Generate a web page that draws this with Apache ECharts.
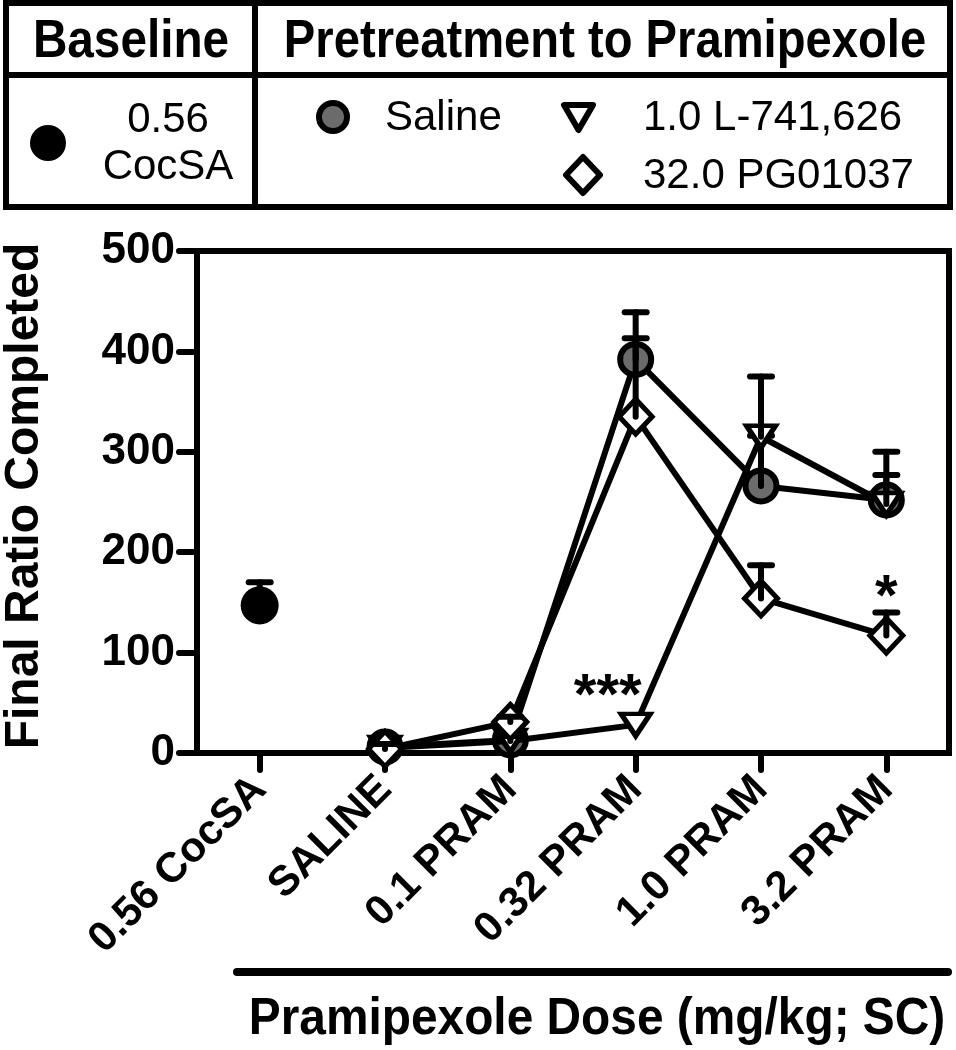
<!DOCTYPE html>
<html>
<head>
<meta charset="utf-8">
<script src="https://cdn.jsdelivr.net/npm/echarts@6/dist/echarts.min.js"></script>
<style>
html,body{margin:0;padding:0;background:#fff;}
#chart{width:956px;height:1050px;}
</style>
</head>
<body>
<div id="chart"></div>
<script>
// ---- data ----
const categories = ['0.56 CocSA', 'SALINE', '0.1 PRAM', '0.32 PRAM', '1.0 PRAM', '3.2 PRAM'];
const baselineMean = [147, null, null, null, null, null];
const baselineSem  = [23, null, null, null, null, null];
const salineMean   = [null, 6, 13, 392, 266, 252];
const salineSem    = [null, 8, 6, 47, 50, 25];
const l741Mean     = [null, 5, 12, 28, 315, 248];
const l741Sem      = [null, 6, 5, 0, 60, 52];
const pgMean       = [null, 4, 31, 335, 154, 117];
const pgSem        = [null, 5, 5, 78, 33, 23];
const annotCats    = ['0.32 PRAM', '3.2 PRAM'];
const annotText    = ['***', '*'];
const annotValue   = [55, 153];
const yMin = 0, yMax = 500, yStep = 100;

const FONT = '"Liberation Sans", Arial, sans-serif';
const LW = 6;

function toLine(arr) { return arr.map(v => v == null ? '-' : v); }
function errData(mean, sem) {
  const out = [];
  mean.forEach((m, i) => { if (m != null && sem[i] != null && sem[i] > 0) out.push([i, m, sem[i]]); });
  return out;
}
function errSeries(mean, sem, z) {
  return {
    type: 'custom',
    z: z,
    silent: true,
    data: errData(mean, sem),
    renderItem: function (params, api) {
      const x = api.value(0), m = api.value(1), e = api.value(2);
      const p0 = api.coord([x, m]);
      const p1 = api.coord([x, m + e]);
      const style = { stroke: '#000', lineWidth: LW, lineCap: 'round' };
      return {
        type: 'group',
        children: [
          { type: 'line', shape: { x1: p0[0], y1: p0[1], x2: p1[0], y2: p1[1] }, style: style },
          { type: 'line', shape: { x1: p1[0] - 11, y1: p1[1], x2: p1[0] + 11, y2: p1[1] }, style: style }
        ]
      };
    }
  };
}

const chart = echarts.init(document.getElementById('chart'), null, { renderer: 'canvas' });

const legendGraphics = [
  { type: 'rect', shape: { x: 6, y: 3, width: 944, height: 204 }, style: { fill: '#fff', stroke: '#000', lineWidth: 6 }, z: 1 },
  { type: 'line', shape: { x1: 6, y1: 75, x2: 950, y2: 75 }, style: { stroke: '#000', lineWidth: 6 }, z: 2 },
  { type: 'line', shape: { x1: 255, y1: 3, x2: 255, y2: 207 }, style: { stroke: '#000', lineWidth: 6 }, z: 2 },
  { type: 'text', x: 131, y: 42, scaleX: 0.9, style: { text: 'Baseline', font: 'bold 53px ' + FONT, fill: '#000', textAlign: 'center', textVerticalAlign: 'middle' }, z: 3 },
  { type: 'text', x: 605, y: 42, scaleX: 0.89, style: { text: 'Pretreatment to Pramipexole', font: 'bold 53px ' + FONT, fill: '#000', textAlign: 'center', textVerticalAlign: 'middle' }, z: 3 },
  { type: 'circle', shape: { cx: 48, cy: 143, r: 18 }, style: { fill: '#000' }, z: 3 },
  { type: 'text', x: 168, y: 120, style: { text: '0.56', font: '42px ' + FONT, fill: '#000', textAlign: 'center', textVerticalAlign: 'middle' }, z: 3 },
  { type: 'text', x: 168, y: 167, style: { text: 'CocSA', font: '42px ' + FONT, fill: '#000', textAlign: 'center', textVerticalAlign: 'middle' }, z: 3 },
  { type: 'circle', shape: { cx: 333, cy: 117, r: 14 }, style: { fill: '#6b6b6b', stroke: '#000', lineWidth: 6 }, z: 3 },
  { type: 'text', x: 385, y: 118, style: { text: 'Saline', font: '42px ' + FONT, fill: '#000', textAlign: 'left', textVerticalAlign: 'middle' }, z: 3 },
  { type: 'polygon', shape: { points: [[564, 105], [593, 105], [578.5, 130]] }, style: { fill: '#fff', stroke: '#000', lineWidth: 6, lineJoin: 'round' }, z: 3 },
  { type: 'text', x: 643, y: 118, style: { text: '1.0 L-741,626', font: '42px ' + FONT, fill: '#000', textAlign: 'left', textVerticalAlign: 'middle' }, z: 3 },
  { type: 'polygon', shape: { points: [[583, 157], [600, 175], [583, 193], [566, 175]] }, style: { fill: '#fff', stroke: '#000', lineWidth: 6, lineJoin: 'round' }, z: 3 },
  { type: 'text', x: 643, y: 176, style: { text: '32.0 PG01037', font: '42px ' + FONT, fill: '#000', textAlign: 'left', textVerticalAlign: 'middle' }, z: 3 }
];

const otherGraphics = [
  { type: 'text', x: 25, y: 496, rotation: Math.PI / 2, style: { text: 'Final Ratio Completed', font: 'bold 48px ' + FONT, fill: '#000', textAlign: 'center', textVerticalAlign: 'middle' }, z: 3 },
  { type: 'line', shape: { x1: 237, y1: 972, x2: 948, y2: 972 }, style: { stroke: '#000', lineWidth: 8, lineCap: 'round' }, z: 3 },
  { type: 'text', x: 597, y: 1020, scaleX: 0.92, style: { text: 'Pramipexole Dose (mg/kg; SC)', font: 'bold 52px ' + FONT, fill: '#000', textAlign: 'center', textVerticalAlign: 'middle' }, z: 3 }
];

const option = {
  backgroundColor: '#fff',
  animation: false,
  grid: { left: 197, top: 251, width: 752, height: 502, show: true, borderColor: '#000', borderWidth: LW, backgroundColor: 'transparent' },
  xAxis: {
    type: 'category',
    data: categories,
    boundaryGap: true,
    axisLine: { show: true, lineStyle: { color: '#000', width: LW } },
    axisTick: { show: true, alignWithLabel: true, length: 17, lineStyle: { color: '#000', width: LW, cap: 'round' } },
    axisLabel: { rotate: 45, margin: 30, color: '#000', fontFamily: FONT, fontWeight: 'bold', fontSize: 42, interval: 0 },
    splitLine: { show: false }
  },
  yAxis: {
    type: 'value',
    min: yMin, max: yMax, interval: yStep,
    axisLine: { show: true, lineStyle: { color: '#000', width: LW } },
    axisTick: { show: true, length: 18, lineStyle: { color: '#000', width: LW, cap: 'round' } },
    axisLabel: { margin: 22, color: '#000', fontFamily: FONT, fontWeight: 'bold', fontSize: 44 },
    splitLine: { show: false }
  },
  graphic: legendGraphics.concat(otherGraphics),
  series: [
    {
      name: '0.56 CocSA', type: 'scatter', z: 5,
      data: toLine(baselineMean), symbol: 'circle', symbolSize: 38,
      itemStyle: { color: '#000', opacity: 1 }
    },
    errSeries(baselineMean, baselineSem, 6),
    {
      name: 'Saline', type: 'line', z: 7,
      data: toLine(salineMean), connectNulls: false,
      symbol: 'circle', symbolSize: 31, showAllSymbol: true,
      lineStyle: { color: '#000', width: LW },
      itemStyle: { color: '#6b6b6b', borderColor: '#000', borderWidth: 6 }
    },
    errSeries(salineMean, salineSem, 8),
    {
      name: '1.0 L-741,626', type: 'line', z: 9,
      data: toLine(l741Mean),
      symbol: 'triangle', symbolRotate: 180, symbolSize: [29, 22], showAllSymbol: true,
      lineStyle: { color: '#000', width: LW },
      itemStyle: { color: '#fff', borderColor: '#000', borderWidth: 5 }
    },
    errSeries(l741Mean, l741Sem, 10),
    {
      name: '32.0 PG01037', type: 'line', z: 11,
      data: toLine(pgMean),
      symbol: 'diamond', symbolSize: [33, 35], showAllSymbol: true,
      lineStyle: { color: '#000', width: LW },
      itemStyle: { color: '#fff', borderColor: '#000', borderWidth: 5 }
    },
    errSeries(pgMean, pgSem, 12),
    {
      name: 'annotations', type: 'scatter', z: 13, symbolSize: 0, silent: true,
      itemStyle: { opacity: 1 },
      data: annotCats.map((c, i) => ({ value: [c, annotValue[i]], label: { formatter: annotText[i] } })),
      label: { show: true, position: 'inside', color: '#000', opacity: 1, fontFamily: FONT, fontWeight: 'bold', fontSize: 58 }
    }
  ]
};
option.series[option.series.length - 1].data[0].label.offset = [-28, 0];
chart.setOption(option);
</script>
</body>
</html>
